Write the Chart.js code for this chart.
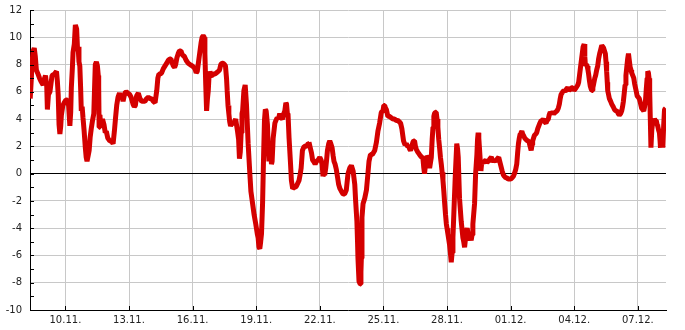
<!DOCTYPE html>
<html>
<head>
<meta charset="utf-8">
<script src="https://cdn.jsdelivr.net/npm/chart.js@4"></script>
<style>
  body { margin: 0; background: #fff; }
</style>
</head>
<body>
<canvas id="tempCanvas" width="685" height="330"></canvas>
<script>
// x = day counted from 1 Nov (Dec days continue at 31, 32, ...)
const days = [
  8.34, 8.39, 8.43, 8.48, 8.53, 8.58, 8.63, 8.71, 8.78, 8.84, 8.95, 9.00, 9.06, 9.12, 9.15, 9.20, 9.27, 9.37, 9.48, 9.58,
  9.62, 9.66, 9.70, 9.74, 9.78, 9.81, 9.88, 9.94, 10.02, 10.09, 10.15, 10.21, 10.25, 10.28, 10.33, 10.36, 10.42, 10.47, 10.53, 10.57,
  10.60, 10.64, 10.68, 10.72, 10.75, 10.79, 10.83, 10.88, 10.94, 10.98, 11.02, 11.07, 11.12, 11.17, 11.22, 11.28, 11.34, 11.37, 11.41, 11.46,
  11.51, 11.55, 11.57, 11.59, 11.63, 11.66, 11.70, 11.75, 11.82, 11.88, 11.93, 12.00, 12.09, 12.17, 12.25, 12.31, 12.36, 12.42, 12.48, 12.55,
  12.61, 12.67, 12.72, 12.80, 12.87, 12.95, 13.03, 13.10, 13.19, 13.25, 13.30, 13.36, 13.44, 13.52, 13.60, 13.68, 13.75, 13.83, 13.91, 14.00,
  14.07, 14.15, 14.23, 14.31, 14.36, 14.41, 14.48, 14.54, 14.62, 14.70, 14.78, 14.85, 14.92, 14.98, 15.04, 15.09, 15.15, 15.20, 15.26, 15.32,
  15.38, 15.45, 15.52, 15.61, 15.70, 15.79, 15.88, 15.98, 16.05, 16.11, 16.17, 16.22, 16.28, 16.34, 16.40, 16.45, 16.50, 16.55, 16.58, 16.62,
  16.66, 16.70, 16.74, 16.78, 16.82, 16.87, 16.92, 16.98, 17.05, 17.13, 17.21, 17.27, 17.33, 17.39, 17.44, 17.50, 17.55, 17.60, 17.63, 17.67,
  17.71, 17.75, 17.79, 17.85, 17.91, 17.97, 18.03, 18.08, 18.12, 18.17, 18.21, 18.25, 18.29, 18.33, 18.36, 18.42, 18.48, 18.54, 18.62, 18.70,
  18.75, 18.83, 18.90, 18.98, 19.05, 19.09, 19.13, 19.17, 19.21, 19.25, 19.30, 19.35, 19.39, 19.43, 19.47, 19.53, 19.57, 19.60, 19.64, 19.68,
  19.72, 19.75, 19.80, 19.88, 19.93, 19.99, 20.05, 20.11, 20.18, 20.24, 20.30, 20.35, 20.40, 20.43, 20.47, 20.50, 20.55, 20.62, 20.66, 20.72,
  20.79, 20.85, 20.90, 20.96, 21.02, 21.08, 21.12, 21.18, 21.26, 21.37, 21.45, 21.49, 21.55, 21.61, 21.66, 21.71, 21.78, 21.84, 21.92, 22.00,
  22.06, 22.11, 22.15, 22.19, 22.23, 22.28, 22.32, 22.36, 22.42, 22.47, 22.52, 22.58, 22.63, 22.67, 22.72, 22.78, 22.84, 22.89, 22.95, 23.02,
  23.10, 23.17, 23.25, 23.33, 23.41, 23.49, 23.53, 23.57, 23.65, 23.69, 23.75, 23.78, 23.80, 23.85, 23.91, 23.94, 23.96, 23.99, 24.04, 24.12,
  24.20, 24.27, 24.32, 24.39, 24.48, 24.59, 24.67, 24.74, 24.82, 24.90, 24.98, 25.02, 25.06, 25.10, 25.14, 25.21, 25.28, 25.37, 25.45, 25.53,
  25.60, 25.68, 25.75, 25.81, 25.87, 25.95, 26.02, 26.08, 26.14, 26.19, 26.24, 26.28, 26.34, 26.39, 26.43, 26.47, 26.51, 26.55, 26.61, 26.66,
  26.70, 26.75, 26.80, 26.86, 26.90, 26.94, 26.98, 27.02, 27.06, 27.10, 27.14, 27.18, 27.22, 27.26, 27.30, 27.34, 27.38, 27.41, 27.45, 27.49,
  27.53, 27.57, 27.61, 27.65, 27.69, 27.73, 27.77, 27.81, 27.85, 27.89, 27.93, 27.97, 28.00, 28.04, 28.08, 28.12, 28.16, 28.20, 28.24, 28.28,
  28.34, 28.40, 28.46, 28.50, 28.53, 28.59, 28.67, 28.75, 28.79, 28.83, 28.87, 28.91, 28.95, 28.98, 29.02, 29.06, 29.10, 29.14, 29.18, 29.22,
  29.30, 29.35, 29.41, 29.44, 29.47, 29.50, 29.53, 29.57, 29.60, 29.63, 29.66, 29.72, 29.77, 29.83, 29.88, 29.93, 29.97, 30.03, 30.09, 30.14,
  30.19, 30.25, 30.32, 30.38, 30.44, 30.52, 30.60, 30.66, 30.71, 30.77, 30.82, 30.88, 30.95, 31.01, 31.07, 31.13, 31.18, 31.24, 31.29, 31.33,
  31.37, 31.41, 31.45, 31.49, 31.53, 31.57, 31.61, 31.67, 31.73, 31.80, 31.86, 31.92, 31.97, 32.01, 32.04, 32.08, 32.12, 32.18, 32.23, 32.28,
  32.33, 32.38, 32.44, 32.50, 32.55, 32.61, 32.67, 32.72, 32.78, 32.82, 32.87, 32.92, 32.98, 33.04, 33.11, 33.19, 33.25, 33.30, 33.34, 33.38,
  33.46, 33.52, 33.57, 33.63, 33.69, 33.76, 33.82, 33.88, 33.93, 33.99, 34.04, 34.09, 34.13, 34.17, 34.21, 34.25, 34.29, 34.33, 34.38, 34.42,
  34.47, 34.50, 34.53, 34.57, 34.61, 34.65, 34.68, 34.72, 34.76, 34.80, 34.84, 34.88, 34.92, 34.97, 35.01, 35.06, 35.11, 35.15, 35.20, 35.25,
  35.30, 35.35, 35.39, 35.43, 35.47, 35.50, 35.53, 35.56, 35.58, 35.62, 35.66, 35.72, 35.77, 35.84, 35.90, 35.96, 36.02, 36.08, 36.13, 36.19,
  36.24, 36.28, 36.32, 36.36, 36.40, 36.44, 36.48, 36.52, 36.56, 36.60, 36.64, 36.68, 36.71, 36.76, 36.81, 36.85, 36.89, 36.93, 36.97, 37.02,
  37.07, 37.12, 37.18, 37.23, 37.28, 37.32, 37.36, 37.40, 37.44, 37.47, 37.50, 37.53, 37.56, 37.59, 37.62, 37.66, 37.71, 37.75, 37.79, 37.83,
  37.87, 37.91, 37.94, 37.98, 38.02, 38.05, 38.07, 38.10, 38.13, 38.16, 38.18, 38.22, 38.26, 38.32
];

const temps = [
  5.5, 6.9, 8.2, 9.0, 9.2, 8.6, 7.6, 7.3, 7.0, 6.8, 6.5, 6.9, 7.2, 6.4, 4.7, 5.8, 6.0, 7.2, 7.3, 7.5,
  6.8, 5.8, 3.6, 2.9, 3.5, 4.3, 5.0, 5.2, 5.4, 5.4, 5.0, 3.5, 4.5, 6.3, 7.8, 8.9, 9.5, 10.9, 10.6, 9.2,
  9.3, 8.2, 7.9, 6.2, 4.6, 4.9, 4.1, 3.2, 1.9, 1.2, 0.9, 1.3, 1.7, 2.7, 3.3, 3.9, 4.4, 6.0, 8.0, 8.2,
  7.9, 7.2, 6.4, 3.4, 4.3, 3.5, 3.6, 4.0, 3.6, 3.0, 3.1, 2.6, 2.4, 2.4, 2.2, 3.1, 4.0, 5.0, 5.6, 5.9,
  5.5, 5.7, 5.3, 5.9, 6.0, 5.9, 5.8, 5.6, 5.1, 4.9, 5.0, 5.7, 5.9, 5.5, 5.3, 5.3, 5.3, 5.5, 5.6, 5.5,
  5.5, 5.3, 5.2, 6.1, 7.0, 7.3, 7.3, 7.4, 7.7, 7.9, 8.1, 8.3, 8.4, 8.4, 8.1, 7.9, 7.8, 8.0, 8.5, 8.8,
  9.0, 9.0, 8.7, 8.6, 8.3, 8.1, 8.0, 7.9, 7.8, 7.7, 7.4, 7.5, 8.2, 8.9, 9.6, 10.0, 10.1, 10.0, 8.8, 6.5,
  4.6, 5.5, 6.1, 7.3, 7.5, 7.2, 7.2, 7.3, 7.3, 7.4, 7.5, 7.6, 8.0, 8.1, 8.1, 8.0, 7.9, 7.0, 6.1, 5.0,
  4.4, 3.8, 3.5, 3.7, 3.6, 3.8, 4.0, 3.5, 3.1, 2.5, 1.1, 1.6, 3.0, 4.4, 4.6, 6.1, 6.5, 5.1, 2.2, 0.0,
  -1.3, -2.2, -3.0, -3.7, -4.4, -4.7, -5.4, -5.5, -5.0, -4.4, -2.2, 1.4, 3.9, 4.7, 4.6, 3.6, 1.8, 0.9, 1.6, 1.7,
  0.7, 0.9, 2.6, 3.7, 3.9, 4.1, 4.0, 4.4, 4.1, 4.0, 4.4, 4.6, 5.2, 5.1, 4.4, 4.4, 2.6, 0.7, -0.5, -1.1,
  -1.0, -1.0, -0.9, -0.7, -0.5, 0.0, 0.4, 1.7, 2.0, 2.0, 2.2, 2.3, 1.9, 1.5, 1.0, 0.9, 0.7, 0.9, 1.0, 1.2,
  1.0, 0.7, -0.2, 0.0, -0.1, 0.4, 1.0, 1.7, 2.2, 2.4, 2.2, 1.9, 1.3, 0.9, 0.7, 0.3, -0.3, -0.8, -1.1, -1.3,
  -1.5, -1.5, -1.2, 0.0, 0.4, 0.6, 0.4, 0.2, -0.8, -2.0, -3.5, -5.0, -6.2, -7.9, -8.1, -7.2, -6.2, -3.2, -2.2, -1.8,
  -1.2, 0.0, 0.9, 1.4, 1.4, 1.7, 2.3, 3.1, 3.7, 4.5, 4.6, 5.0, 5.0, 4.8, 4.7, 4.2, 4.2, 4.1, 4.0, 4.0,
  3.9, 3.9, 3.8, 3.7, 3.3, 2.4, 2.1, 2.2, 2.0, 2.0, 1.8, 1.7, 2.0, 2.3, 2.4, 2.4, 2.0, 1.8, 1.6, 1.5,
  1.4, 1.3, 1.2, 1.2, 0.5, 0.0, 0.6, 0.9, 1.3, 1.2, 0.8, 0.4, 0.8, 1.2, 2.5, 3.4, 4.2, 4.4, 4.5, 4.5,
  4.0, 3.4, 2.5, 1.9, 1.2, 0.7, 0.1, -0.5, -1.3, -2.2, -3.0, -3.7, -4.0, -4.4, -4.8, -5.2, -5.8, -6.5, -5.8, -4.7,
  -2.2, 0.2, 2.2, 1.8, 1.2, -1.8, -3.5, -4.7, -5.0, -5.4, -4.8, -4.2, -4.0, -4.0, -4.6, -4.9, -4.6, -4.9, -4.5, -3.7,
  -2.2, 0.0, 1.4, 2.5, 3.0, 2.6, 1.9, 0.9, 0.2, 0.7, 0.9, 0.8, 0.9, 1.0, 0.8, 0.9, 0.9, 1.1, 1.2, 1.0,
  0.9, 1.0, 0.9, 1.1, 1.2, 0.7, 0.2, -0.1, -0.2, -0.3, -0.3, -0.4, -0.4, -0.4, -0.3, -0.2, 0.0, 0.3, 0.7, 1.5,
  2.2, 2.6, 2.9, 3.0, 3.1, 2.9, 2.8, 2.6, 2.5, 2.4, 2.4, 2.0, 1.7, 2.1, 2.4, 2.6, 2.8, 2.9, 3.0, 3.3,
  3.5, 3.7, 3.9, 3.9, 4.0, 3.8, 3.7, 3.9, 4.0, 4.3, 4.5, 4.4, 4.5, 4.4, 4.5, 4.6, 4.8, 5.1, 5.5, 5.8,
  6.0, 6.1, 6.0, 6.2, 6.3, 6.1, 6.2, 6.3, 6.3, 6.1, 6.2, 6.3, 6.3, 6.5, 6.7, 7.2, 7.7, 8.2, 8.8, 9.3,
  9.5, 8.6, 7.9, 8.0, 7.9, 7.6, 7.3, 6.8, 6.4, 6.2, 6.1, 6.3, 6.6, 7.0, 7.2, 7.6, 7.9, 8.4, 8.8, 9.1,
  9.4, 9.3, 9.2, 9.0, 8.8, 8.2, 7.5, 6.7, 6.1, 5.8, 5.5, 5.3, 5.1, 4.9, 4.7, 4.6, 4.6, 4.4, 4.3, 4.4,
  4.6, 4.9, 5.3, 5.9, 6.5, 7.2, 7.8, 8.4, 8.8, 8.3, 7.8, 7.6, 7.4, 7.2, 7.0, 6.6, 6.3, 6.0, 5.7, 5.6,
  5.5, 5.2, 4.8, 4.7, 4.6, 4.9, 5.3, 6.2, 7.0, 7.5, 7.4, 7.0, 6.1, 4.0, 1.9, 3.2, 3.9, 3.8, 4.0, 3.9,
  3.9, 3.6, 3.5, 3.2, 3.0, 2.4, 1.9, 2.8, 3.1, 2.5, 1.9, 3.5, 4.7, 4.8
];

const tickDays = [10, 13, 16, 19, 22, 25, 28, 31, 34, 37];
const tickLabels = ["10.11.", "13.11.", "16.11.", "19.11.", "22.11.", "25.11.", "28.11.", "01.12.", "04.12.", "07.12."];
const xMin = 8.33;
const xMax = 38.33;
const yMin = -10;
const yMax = 12;

const tickFont = { family: "'DejaVu Sans', sans-serif", size: 10 };

// small tick marks pointing into the plot, as in the original
const innerTicks = {
  id: "innerTicks",
  afterDraw(chart) {
    const { ctx, chartArea, scales } = chart;
    ctx.save();
    ctx.strokeStyle = "#000";
    ctx.lineWidth = 1;
    ctx.beginPath();
    for (let v = yMin; v <= yMax; v++) {
      const py = Math.round(scales.y.getPixelForValue(v)) + 0.5;
      ctx.moveTo(chartArea.left, py);
      ctx.lineTo(chartArea.left + 4, py);
    }
    tickDays.forEach(d => {
      const px = Math.round(scales.x.getPixelForValue(d)) + 0.5;
      ctx.moveTo(px, chartArea.bottom);
      ctx.lineTo(px, chartArea.bottom - 4);
    });
    ctx.stroke();
    ctx.restore();
  }
};

const tempChart = new Chart(document.getElementById("tempCanvas"), {
  type: "line",
  data: {
    datasets: [{
      data: days.map((d, i) => ({ x: d, y: temps[i] })),
      borderColor: "#d40000",
      borderWidth: 5,
      borderJoinStyle: "bevel",
      pointRadius: 0,
      tension: 0,
      fill: false
    }]
  },
  options: {
    responsive: false,
    animation: false,
    layout: { padding: { top: 10, right: 19, left: 0, bottom: 0 } },
    plugins: { legend: { display: false }, tooltip: { enabled: false } },
    scales: {
      x: {
        type: "linear",
        min: xMin,
        max: xMax,
        afterBuildTicks: s => { s.ticks = tickDays.map(v => ({ value: v })); },
        afterFit: s => { s.height = 20; },
        grid: { color: "#c8c8c8", drawTicks: false },
        border: { display: true, color: "#000" },
        ticks: {
          autoSkip: false,
          maxRotation: 0,
          padding: 4,
          color: "#222",
          font: tickFont,
          callback: (v, i) => tickLabels[i]
        }
      },
      y: {
        min: yMin,
        max: yMax,
        // fixed axis width; drop the label padding so the plot starts at y=10
        afterFit: s => { s.width = 30; s.paddingTop = 0; s.paddingBottom = 0; },
        grid: {
          drawTicks: false,
          color: c => (c.tick && c.tick.value === 0 ? "#000" : "#c8c8c8")
        },
        border: { display: true, color: "#000" },
        ticks: {
          stepSize: 2,
          padding: 8,
          color: "#222",
          font: tickFont
        }
      }
    }
  },
  plugins: [innerTicks]
});
</script>
</body>
</html>
